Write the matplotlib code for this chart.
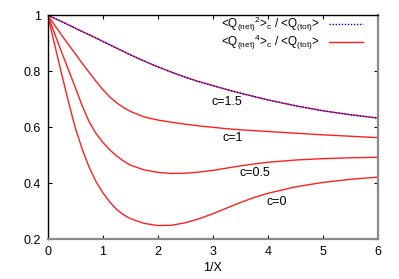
import matplotlib
matplotlib.use("Agg")
import matplotlib.pyplot as plt

plt.rcParams['font.family'] = ['Liberation Sans', 'DejaVu Sans']
plt.rcParams['mathtext.fontset'] = 'custom'
plt.rcParams['mathtext.rm'] = 'Liberation Sans'
plt.rcParams['mathtext.it'] = 'Liberation Sans'

x = [0, 0.125, 0.25, 0.375, 0.5, 0.625, 0.75, 0.875, 1, 1.125, 1.25, 1.375, 1.5,
     1.75, 2, 2.25, 2.5, 2.75, 3, 3.25, 3.5, 3.75, 4, 4.5, 5, 5.5, 6]
q2 = [1.0, 0.988, 0.977, 0.965, 0.953, 0.941, 0.93, 0.918, 0.906, 0.894, 0.882, 0.870, 0.858,
      0.836, 0.815, 0.796, 0.778, 0.762, 0.748, 0.734, 0.721, 0.709, 0.697, 0.676, 0.658, 0.644, 0.632]
c15 = [1.0, 0.988, 0.977, 0.965, 0.953, 0.941, 0.93, 0.918, 0.906, 0.894, 0.882, 0.870, 0.858,
       0.836, 0.815, 0.796, 0.778, 0.762, 0.748, 0.734, 0.721, 0.709, 0.697, 0.676, 0.658, 0.644, 0.632]
c10 = [1.0, 0.964, 0.929, 0.895, 0.862, 0.828, 0.796, 0.764, 0.734, 0.708, 0.687, 0.670, 0.656,
       0.636, 0.625, 0.617, 0.610, 0.604, 0.599, 0.594, 0.590, 0.587, 0.584, 0.578, 0.572, 0.567, 0.562]
c05 = [1.0, 0.934, 0.869, 0.805, 0.742, 0.677, 0.620, 0.578, 0.546, 0.519, 0.497, 0.479, 0.464,
       0.447, 0.438, 0.434, 0.435, 0.439, 0.445, 0.453, 0.461, 0.468, 0.474, 0.482, 0.487, 0.490, 0.492]
c00 = [1.0, 0.895, 0.792, 0.692, 0.598, 0.522, 0.458, 0.406, 0.366, 0.333, 0.306, 0.287, 0.273,
       0.256, 0.248, 0.249, 0.258, 0.272, 0.290, 0.310, 0.330, 0.348, 0.363, 0.386, 0.402, 0.413, 0.421]

labels = ['c=1.5', 'c=1', 'c=0.5', 'c=0']
label_x = [3.26, 3.36, 3.77, 4.17]
label_y = [0.69, 0.56, 0.435, 0.333]

xticks = [0, 1, 2, 3, 4, 5, 6]
yticks = [0.2, 0.4, 0.6, 0.8, 1.0]
ytick_labels = ['0.2', '0.4', '0.6', '0.8', '1']

fig = plt.figure(figsize=(3.99, 2.79), dpi=100)
ax = fig.add_axes([47.7/399, 1-239/279, 330/399, 224/279])

for ys in (c15, c10, c05):
    ax.plot(x, ys, color='#ff2020', lw=1.0)
l4, = ax.plot(x, c00, color='#ff2020', lw=1.0)
l2, = ax.plot(x, q2, color='#0000ff', lw=1.0, ls=(0, (1, 1.2)))

for t, lx, ly in zip(labels, label_x, label_y):
    ax.text(lx, ly, t, ha='center', va='center', fontsize=9)

ax.set_xlim(0, 6)
ax.set_ylim(0.2, 1.0)
ax.set_xticks(xticks)
ax.set_xticklabels([str(t) for t in xticks])
ax.set_yticks(yticks)
ax.set_yticklabels(ytick_labels)
ax.tick_params(direction='in', top=True, right=True, length=3, width=0.8,
               labelsize=9, pad=5, colors='black')
ax.set_xlabel('1/X', fontsize=9, labelpad=3)

for s in ('left', 'top'):
    ax.spines[s].set_color('black')
    ax.spines[s].set_linewidth(1.0)
for s in ('right', 'bottom'):
    ax.spines[s].set_color('#8a8a8a')
    ax.spines[s].set_linewidth(1.6)

lab2 = r'<Q$_{\mathrm{(net)}}$$^{\mathrm{2}}$>$_{\mathrm{c}}$ / <Q$_{\mathrm{(tot)}}$>'
lab4 = r'<Q$_{\mathrm{(net)}}$$^{\mathrm{4}}$>$_{\mathrm{c}}$ / <Q$_{\mathrm{(tot)}}$>'
leg = ax.legend([l2, l4], [lab2, lab4], loc='upper right', frameon=False,
                fontsize=8.5, markerfirst=False, handlelength=2.9,
                handletextpad=0.7, labelspacing=-0.12,
                borderaxespad=0.0, borderpad=0.0,
                bbox_to_anchor=(0.955, 1.0))
for t in leg.get_texts():
    t.set_ha('right')

fig.savefig('out.png', dpi=100)
